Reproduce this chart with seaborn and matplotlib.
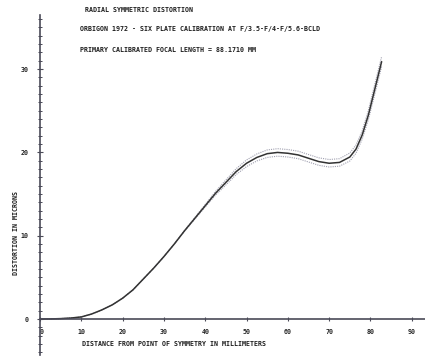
import matplotlib
matplotlib.use("Agg")
import matplotlib.pyplot as plt
import seaborn as sns
import numpy as np
import pandas as pd

# radial distance (mm) and distortion (microns)
distance_mm = [0, 2.5, 5, 7.5, 10, 12.5, 15, 17.5, 20, 22.5, 25, 27.5, 30, 32.5, 35, 37.5,
               40, 42.5, 45, 47.5, 50, 52.5, 55, 57.5, 60, 62.5, 65, 67.5, 70, 72.5, 75,
               76.5, 78, 79.5, 81, 82.7]
distortion_um = [0, 0.01, 0.05, 0.12, 0.25, 0.6, 1.1, 1.7, 2.5, 3.5, 4.8, 6.1, 7.5, 9.0,
                 10.6, 12.1, 13.6, 15.1, 16.4, 17.7, 18.7, 19.4, 19.85, 20.0, 19.9, 19.7,
                 19.3, 18.9, 18.7, 18.8, 19.45, 20.4, 22.1, 24.5, 27.5, 30.9]
# half width of the dotted uncertainty band
band_um = [0, 0, 0, 0, 0, 0, 0, 0, 0, 0, 0, 0, 0, 0, 0.05, 0.1,
           0.15, 0.22, 0.3, 0.35, 0.4, 0.42, 0.45, 0.45, 0.45, 0.45, 0.45, 0.45, 0.45,
           0.45, 0.48, 0.5, 0.5, 0.55, 0.6, 0.6]

x_ticks = [0, 10, 20, 30, 40, 50, 60, 70, 80, 90]
y_ticks = [0, 10, 20, 30]

title_lines = [
    "RADIAL SYMMETRIC DISTORTION",
    "ORBIGON 1972 - SIX PLATE CALIBRATION AT F/3.5-F/4-F/5.6-BCLD",
    "PRIMARY CALIBRATED FOCAL LENGTH = 88.1710 MM",
]
x_label = "DISTANCE FROM POINT OF SYMMETRY IN MILLIMETERS"
y_label = "DISTORTION IN MICRONS"

df = pd.DataFrame({"x": distance_mm, "y": distortion_um, "e": band_um})
df["upper"] = df["y"] + df["e"]
df["lower"] = df["y"] - df["e"]

sns.set_style("white")
plt.rcParams["font.family"] = ["DejaVu Sans Mono"]

W, H = 425, 358
fig = plt.figure(figsize=(W / 100, H / 100), dpi=100)
ax = fig.add_axes([40 / W, 3 / H, 385 / W, 340 / H])

axis_col = "#4a4a58"
ink = "#1e1e1e"
fs = 4.8

sns.lineplot(data=df, x="x", y="upper", ax=ax, color="#a0a0b0", lw=0.8,
             linestyle=(0, (1, 1)), estimator=None, sort=False)
sns.lineplot(data=df, x="x", y="lower", ax=ax, color="#a0a0b0", lw=0.8,
             linestyle=(0, (1, 1)), estimator=None, sort=False)
sns.lineplot(data=df, x="x", y="y", ax=ax, color="#333333", lw=1.1,
             estimator=None, sort=False)

ax.set_xlim(0, 93.2)
ax.set_ylim(-4.32, 36.5)

for s in ["top", "right"]:
    ax.spines[s].set_visible(False)
ax.spines["bottom"].set_position(("data", 0))
ax.spines["left"].set_position(("data", 0))
for s in ["bottom", "left"]:
    ax.spines[s].set_color(axis_col)
    ax.spines[s].set_linewidth(1.2)

ax.set_xticks(x_ticks)
ax.set_xticklabels([str(v) for v in x_ticks], fontsize=fs, fontweight="bold")
ax.get_xticklabels()[0].set_horizontalalignment("left")
ax.set_yticks(y_ticks)
ax.set_yticklabels([str(v) for v in y_ticks], fontsize=fs, fontweight="bold")
ax.set_yticks(np.arange(-4, 37, 1), minor=True)
ax.tick_params(axis="x", bottom=True, direction="inout", length=3, width=0.8,
               color=axis_col, pad=6)
ax.tick_params(axis="y", which="both", left=True)
ax.tick_params(axis="y", which="major", direction="inout", length=4, width=0.8,
               color=axis_col, pad=6)
ax.tick_params(axis="y", which="minor", direction="inout", length=3, width=0.7,
               color=axis_col)
ax.set_xlabel("")
ax.set_ylabel("")

# header text and axis titles placed in pixel positions
title_pos = [(85, 10), (80, 29), (80, 50)]
for (px, py), txt in zip(title_pos, title_lines):
    fig.text(px / W, 1 - py / H, txt, fontsize=fs, fontweight="bold",
             ha="left", va="center", color=ink)
fig.text(82 / W, 1 - 344 / H, x_label, fontsize=fs, fontweight="bold",
         ha="left", va="center", color=ink)
fig.text(16 / W, 1 - 233 / H, y_label, fontsize=fs, fontweight="bold",
         ha="center", va="center", rotation=90, color=ink)

fig.savefig("out.png", dpi=100)
